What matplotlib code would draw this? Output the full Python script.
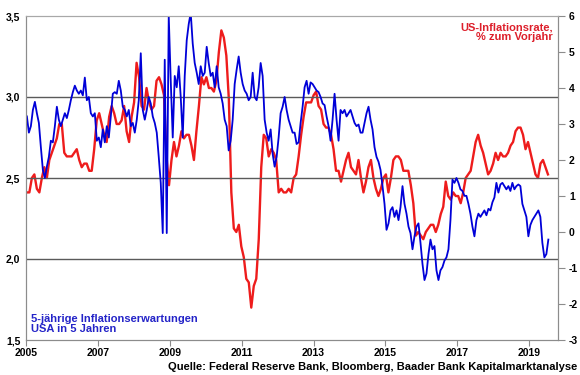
import pandas as pd
import matplotlib
matplotlib.use('Agg')
import matplotlib.pyplot as plt

plt.rcParams['font.family'] = ['Liberation Sans', 'DejaVu Sans']
plt.rcParams['font.weight'] = 'bold'

blau = [
    2.88, 2.78, 2.82, 2.92, 2.97, 2.90, 2.84, 2.69, 2.55, 2.50, 2.57, 2.63, 2.73, 2.72, 2.82,
    2.94, 2.86, 2.82, 2.86, 2.90, 2.87, 2.92, 2.98, 3.03, 3.07, 3.04, 3.02, 3.04, 3.01, 3.12,
    2.98, 3.00, 2.90, 2.88, 2.90, 2.73, 2.75, 2.69, 2.80, 2.72, 2.82, 2.75, 2.88, 3.02, 3.03,
    3.02, 3.10, 3.04, 2.94, 2.92, 2.88, 2.92, 2.82, 2.84, 2.78, 2.86, 2.98, 3.27, 2.92, 2.86,
    2.92, 3.00, 2.96, 2.88, 2.84, 2.78, 2.63, 2.47, 2.16, 3.23, 2.16, 3.50, 3.10, 2.75, 3.13,
    3.06, 3.19, 3.00, 2.75, 3.13, 3.35, 3.45, 3.52, 3.33, 3.21, 3.15, 3.08, 3.19, 3.13, 3.15,
    3.31, 3.21, 3.13, 3.15, 3.06, 3.19, 3.06, 3.02, 2.96, 2.86, 2.82, 2.67, 2.73, 2.86, 3.08,
    3.17, 3.25, 3.15, 3.08, 3.04, 3.02, 2.98, 3.00, 3.15, 3.00, 2.98, 3.06, 3.21, 3.13, 2.86,
    2.78, 2.73, 2.80, 2.65, 2.57, 2.63, 2.75, 2.90, 2.94, 3.00, 2.92, 2.86, 2.82, 2.78, 2.78,
    2.71, 2.72, 2.84, 2.94, 3.06, 3.10, 3.02, 3.09, 3.08, 3.06, 3.04, 3.03, 3.00, 2.96, 2.95,
    2.88, 2.82, 2.73, 2.86, 3.02, 2.86, 2.73, 2.92, 2.90, 2.92, 2.88, 2.90, 2.92, 2.88, 2.84,
    2.82, 2.83, 2.78, 2.78, 2.84, 2.90, 2.94, 2.86, 2.80, 2.69, 2.63, 2.60, 2.55, 2.45, 2.34,
    2.18, 2.22, 2.30, 2.32, 2.26, 2.30, 2.24, 2.32, 2.45, 2.34, 2.28, 2.20, 2.16, 2.06, 2.14,
    2.20, 2.22, 2.10, 1.97, 1.87, 1.91, 2.03, 2.12, 2.06, 2.08, 1.93, 1.87, 1.93, 1.95, 1.99,
    2.01, 2.06, 2.24, 2.49, 2.47, 2.50, 2.47, 2.43, 2.42, 2.39, 2.39, 2.34, 2.28, 2.20, 2.14,
    2.24, 2.28, 2.26, 2.28, 2.30, 2.27, 2.31, 2.30, 2.35, 2.38, 2.47, 2.41, 2.46, 2.47, 2.45,
    2.43, 2.45, 2.42, 2.47, 2.43, 2.45, 2.46, 2.45, 2.34, 2.30, 2.26, 2.14, 2.21, 2.24, 2.26,
    2.28, 2.30, 2.26, 2.10, 2.01, 2.03, 2.12,
]

# US-Inflationsrate in % zum Vorjahr (rechte Achse), Monatswerte
rot = [
    1.1, 1.1, 1.5, 1.6, 1.2, 1.1, 1.5, 1.8, 1.5, 2.0, 2.2, 2.4,
    2.6, 3.0, 3.0, 2.2, 2.1, 2.1, 2.1, 2.2, 2.3, 2.0, 1.8, 1.9,
    1.9, 1.7, 1.7, 2.3, 3.1, 3.3, 3.0, 2.7, 2.5, 3.2, 3.5, 3.3,
    3.0, 3.0, 3.1, 3.5, 2.8, 2.5, 3.2, 3.6, 4.7, 4.3, 3.5, 3.4,
    4.0, 3.6, 3.4, 3.5, 4.2, 4.3, 4.1, 3.8, 2.1, 1.3, 2.0, 2.5,
    2.1, 2.4, 2.8, 2.6, 2.7, 2.7, 2.4, 2.0, 2.8, 3.5, 4.3, 4.1,
    4.3, 4.0, 4.0, 3.9, 4.2, 5.0, 5.6, 5.4, 4.9, 3.7, 1.1, 0.1,
    0.0, 0.2, -0.4, -0.7, -1.3, -1.4, -2.1, -1.5, -1.3, -0.2, 1.8, 2.7,
    2.6, 2.1, 2.3, 2.2, 2.0, 1.1, 1.2, 1.1, 1.1, 1.2, 1.1, 1.5,
    1.6, 2.1, 2.7, 3.2, 3.6, 3.6, 3.6, 3.8, 3.9, 3.5, 3.4, 3.0,
    2.9, 2.9, 2.7, 2.3, 1.7, 1.7, 1.4, 1.7, 2.0, 2.2, 1.8, 1.7,
    1.6, 2.0, 1.5, 1.1, 1.4, 1.8, 2.0, 1.5, 1.2, 1.0, 1.2, 1.5,
    1.6, 1.1, 1.5, 2.0, 2.1, 2.1, 2.0, 1.7, 1.7, 1.7, 1.3, 0.8,
    -0.1, 0.0, -0.1, -0.2, 0.0, 0.1, 0.2, 0.2, 0.0, 0.2, 0.5, 0.7,
    1.4, 1.0, 0.9, 1.1, 1.0, 1.0, 0.8, 1.1, 1.5, 1.6, 1.7, 2.1,
    2.5, 2.7, 2.4, 2.2, 1.9, 1.6, 1.7, 1.9, 2.2, 2.0, 2.2, 2.1,
    2.1, 2.2, 2.4, 2.5, 2.8, 2.9, 2.9, 2.7, 2.3, 2.5, 2.2, 1.9,
    1.6, 1.5, 1.9, 2.0, 1.8, 1.6,
]

jahre = [2005, 2007, 2009, 2011, 2013, 2015, 2017, 2019]
ticks_links = [1.5, 2.0, 2.5, 3.0, 3.5]
ticks_rechts = [-3, -2, -1, 0, 1, 2, 3, 4, 5, 6]

datum_blau = pd.date_range('2005-01-10', '2019-07-14', periods=len(blau))
datum_rot = pd.date_range('2005-01-10', '2019-07-10', periods=len(rot))

fig = plt.figure(figsize=(5.8, 3.75), dpi=100)
ax = fig.add_axes([26 / 580, 35 / 375, 532 / 580, 324 / 375])
ax2 = ax.twinx()
# blaue Linie soll ueber der roten liegen
ax.set_zorder(ax2.get_zorder() + 1)
ax.patch.set_visible(False)

for v in [2.0, 2.5, 3.0]:
    ax.axhline(v, color='#5a5a5a', lw=1.0, zorder=0)

ax.plot(datum_blau, blau, color='#0000d8', lw=1.3)
ax2.plot(datum_rot, rot, color='#ee1c1c', lw=1.7)

ax.set_ylim(1.5, 3.5)
ax2.set_ylim(-3, 6)
ax.set_xlim(pd.Timestamp('2005-01-01'), pd.Timestamp('2019-10-20'))

ax.set_yticks(ticks_links)
ax.set_yticklabels([f'{v:.1f}'.replace('.', ',') for v in ticks_links])
ax.tick_params(axis='y', length=0, pad=4, labelsize=7.5)

ax2.set_yticks(ticks_rechts)
ax2.set_yticklabels([str(v) for v in ticks_rechts])
ax2.tick_params(axis='y', length=5, width=0.8, color='#8c8c8c', pad=3, labelsize=7.5)

ax.set_xticks([pd.Timestamp(f'{j}-01-01') for j in jahre])
ax.set_xticklabels([str(j) for j in jahre])
ax.tick_params(axis='x', length=4, width=0.8, color='#8c8c8c', pad=2, labelsize=7.5)

for a in (ax, ax2):
    for s in a.spines.values():
        s.set_color('#8c8c8c')
        s.set_linewidth(0.8)
    a.spines['top'].set_color('#a8a8a8')

fig.text(553 / 580, 1 - 22 / 375, 'US-Inflationsrate,\n% zum Vorjahr', ha='right', va='top',
         color='#dd1f2b', fontsize=8, fontweight='bold', linespacing=1.05)
fig.text(31 / 580, 1 - 314 / 375, '5-jährige Inflationserwartungen\nUSA in 5 Jahren', ha='left',
         va='top', color='#2424c8', fontsize=8, fontweight='bold', linespacing=1.05)
fig.text(577 / 580, 1 - 367 / 375,
         'Quelle: Federal Reserve Bank, Bloomberg, Baader Bank Kapitalmarktanalyse',
         ha='right', va='center', fontsize=8, fontweight='bold')

fig.savefig('out.png', dpi=100)
